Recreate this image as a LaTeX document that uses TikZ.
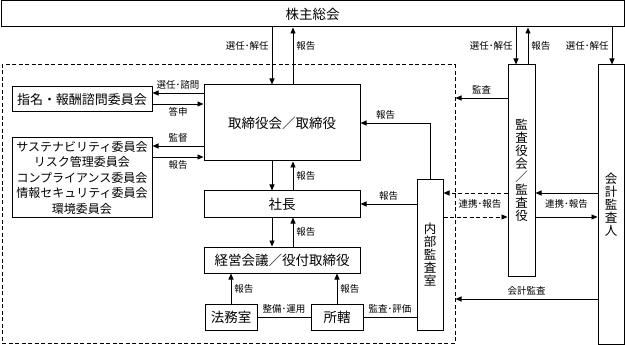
\documentclass[tikz,border=0pt]{standalone}
\usepackage{fontspec}
\setmainfont{Noto Sans CJK JP}
\usetikzlibrary{arrows.meta}
\tikzset{
  kbox/.style={draw=black, line width=1pt, inner sep=0pt, fill=white,
    font=\fontsize{13.5}{15}\selectfont},
  kcmte/.style={kbox, align=center, font=\fontsize{12}{15.5}\selectfont},
  kvert/.style={kbox, align=center, font=\fontsize{12.5}{13}\selectfont},
  klbl/.style={font=\fontsize{9.5}{10}\selectfont, inner sep=2pt},
  kline/.style={line width=0.9pt, draw=black},
  karrow/.style={kline, -{Triangle[length=6pt,width=5pt]}},
  kdash/.style={karrow, dash pattern=on 4pt off 2.5pt},
  kframe/.style={draw=black, line width=1pt, dash pattern=on 4pt off 2.5pt, inner sep=0pt}
}

\begin{document}
\begin{tikzpicture}[x=1pt,y=-1pt]
  \useasboundingbox (0,0) rectangle (625,345);
  % execution area
  \node[kframe, minimum width=453pt, minimum height=278pt] (frame) at (228.5,204) {};
  \node[kbox, minimum width=623pt, minimum height=26pt] (sh) at (312.5,14) {株主総会};
  \node[kbox, minimum width=156pt, minimum height=76pt] (board) at (282,123) {取締役会／取締役};
  \node[kbox, minimum width=140pt, minimum height=25pt, font=\fontsize{13}{15}\selectfont] (nom) at (82,99.5) {指名・報酬諮問委員会};
  \node[kcmte, minimum width=140pt, minimum height=79pt] (cmte) at (82,177.5) {サステナビリティ委員会\\リスク管理委員会\\コンプライアンス委員会\\情報セキュリティ委員会\\環境委員会};
  \node[kbox, minimum width=156pt, minimum height=26pt] (pres) at (282,204) {社長};
  \node[kbox, minimum width=156pt, minimum height=26pt] (mgmt) at (282,260) {経営会議／役付取締役};
  \node[kbox, minimum width=52pt, minimum height=26pt] (legal) at (231,317) {法務室};
  \node[kbox, minimum width=52pt, minimum height=26pt] (dept) at (337,317) {所轄};
  \node[kvert, minimum width=26pt, minimum height=150pt] (audit) at (430,255) {内\\部\\監\\査\\室};
  \node[kvert, minimum width=27pt, minimum height=211pt] (kansa) at (521.5,170.5) {監\\査\\役\\会\\／\\監\\査\\役};
  \node[kvert, minimum width=26pt, minimum height=279pt] (kaikei) at (611,204.5) {会\\計\\監\\査\\人};

  % shareholders meeting
  \draw[karrow] (sh.south -| 272,0) -- node[klbl,left=1pt,pos=0.33] (l1) {選任･解任} (board.north -| 272,0);
  \draw[karrow] (board.north -| 293,0) -- node[klbl,right=1pt,pos=0.67] (l2) {報告} (sh.south -| 293,0);
  \draw[karrow] (sh.south -| 516,0) -- node[klbl,left=1pt] (l3) {選任･解任} (kansa.north -| 516,0);
  \draw[karrow] (kansa.north -| 528,0) -- node[klbl,right=1pt] (l4) {報告} (sh.south -| 528,0);
  \draw[karrow] (sh.south -| 612,0) -- node[klbl,left=1pt] (l5) {選任･解任} (kaikei.north -| 612,0);

  % committees
  \draw[karrow] (board.west |- 0,93) -- node[klbl,above=1pt] (l6) {選任･諮問} (nom.east |- 0,93);
  \draw[karrow] (nom.east |- 0,104) -- node[klbl,below=1pt] (l7) {答申} (board.west |- 0,104);
  \draw[karrow] (board.west |- 0,146) -- node[klbl,above=1pt] (l8) {監督} (cmte.east |- 0,146);
  \draw[karrow] (cmte.east |- 0,157) -- node[klbl,below=1pt] (l9) {報告} (board.west |- 0,157);

  % executive line
  \draw[karrow] (board.south -| 272,0) -- (pres.north -| 272,0);
  \draw[karrow] (pres.north -| 293,0) -- node[klbl,right=1pt] (l10) {報告} (board.south -| 293,0);
  \draw[karrow] (pres.south -| 272,0) -- (mgmt.north -| 272,0);
  \draw[karrow] (mgmt.north -| 293,0) -- node[klbl,right=1pt] (l11) {報告} (pres.south -| 293,0);
  \draw[karrow] (legal.north) -- node[klbl,right=1pt] (l12) {報告} (mgmt.south -| legal.north);
  \draw[karrow] (dept.north) -- node[klbl,right=1pt] (l13) {報告} (mgmt.south -| dept.north);
  \draw[kline] (legal) -- node[klbl,above=1pt] (l14) {整備･運用} (dept);
  \draw[kline] (dept) -- node[klbl,above=1pt] (l15) {監査･評価} (audit.west |- dept);

  % internal audit
  \draw[karrow] (audit.north) |- node[klbl,above=1pt,pos=0.82] (l16) {報告} (board.east);
  \draw[karrow] (audit.west |- pres.east) -- node[klbl,above=1pt] (l17) {報告} (pres.east);
  \draw[kdash] (kansa.west |- 0,193) -- node[klbl,below=4pt,pos=0.43] (l18) {連携･報告} (audit.east |- 0,193);
  \draw[kdash] (audit.east |- 0,217) -- (kansa.west |- 0,217);
  \draw[karrow] (kansa.west |- 0,98) -- node[klbl,above=1pt] (l19) {監査} (frame.east |- 0,98);

  % accounting auditor
  \draw[karrow] (kaikei.west |- 0,193) -- node[klbl,below=4pt] (l20) {連携･報告} (kansa.east |- 0,193);
  \draw[karrow] (kansa.east |- 0,217) -- (kaikei.west |- 0,217);
  \draw[karrow] (kaikei.west |- 0,299) -- node[klbl,above=1pt] (l21) {会計監査} (frame.east |- 0,299);
\end{tikzpicture}
\end{document}
